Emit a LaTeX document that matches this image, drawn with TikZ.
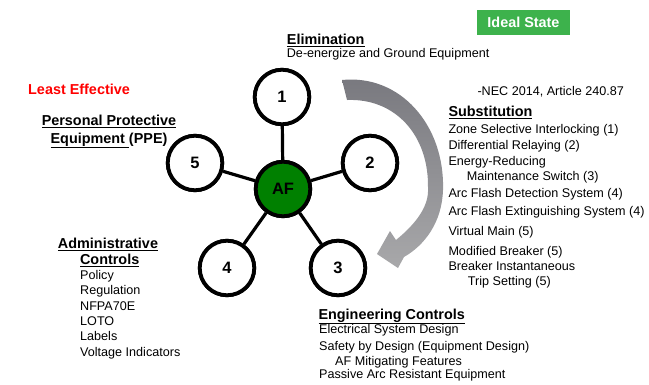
\documentclass[tikz,border=0pt]{standalone}
\usepackage{fontspec}
\setmainfont{Liberation Sans}
\definecolor{afgreen}{RGB}{0,128,0}
\definecolor{idealgreen}{RGB}{61,178,76}
\definecolor{arrowtop}{RGB}{120,120,126}
\definecolor{arrowbot}{RGB}{168,168,170}
\begin{document}
\begin{tikzpicture}[x=1pt,y=-1pt,
  txt/.style={anchor=base west,inner sep=0pt,font=\fontsize{12.6}{15}\selectfont},
  hd/.style={anchor=base west,inner sep=0pt,font=\fontsize{14.4}{17}\selectfont\bfseries},
  hdc/.style={anchor=base,inner sep=0pt,font=\fontsize{14.4}{17}\selectfont\bfseries},
  num/.style={circle,draw=black,line width=3.8pt,fill=white,minimum size=54.5pt,inner sep=0pt,font=\fontsize{16.5}{18}\selectfont\bfseries},
  spoke/.style={line width=3.2pt,draw=black}]
\useasboundingbox (0,0) rectangle (649,384);

% curved arrow
\shade[top color=arrowtop,bottom color=arrowbot]
  (342,80) .. controls (400,74) and (445,125) .. (443,190)
  .. controls (442,222) and (425,245) .. (404,257)
  -- (398,268) -- (377,254) -- (390,231) -- (396,240)
  .. controls (418,222) and (429,205) .. (428,188)
  .. controls (429,135) and (395,98) .. (347,100) -- cycle;

% hub and spokes
\node[num,fill=afgreen] (af) at (283,189) {AF};
\node[num] (n1) at (282,97) {1};
\node[num] (n2) at (370,163) {2};
\node[num] (n3) at (338,268) {3};
\node[num] (n4) at (227,268) {4};
\node[num] (n5) at (195,163) {5};
\foreach \n in {n1,n2,n3,n4,n5} \draw[spoke] (af) -- (\n);
\node[num,fill=afgreen] at (af.center) {AF};
\foreach \n/\t in {n1/1,n2/2,n3/3,n4/4,n5/5} \node[num] at (\n.center) {\t};

% Ideal state
\node[fill=idealgreen,text=white,minimum width=93pt,minimum height=25pt,inner sep=0pt,
  font=\fontsize{14.4}{17}\selectfont\bfseries] (ideal) at (523.5,22.5) {Ideal State};

% Least effective
\node[hd,text=red] (least) at (28,94) {Least Effective};

% Elimination
\node[hd] (elim) at (286.7,44.3) {\underline{Elimination}};
\node[txt] (elim1) at (286.7,57.7) {De-energize and Ground Equipment};

% PPE
\node[hdc] (ppe1) at (109,125.7) {\underline{Personal Protective}};
\node[hdc] (ppe2) at (109,143) {\underline{Equipment\ }(PPE)};

% Administrative
\node[hdc] (adm1) at (108,248.7) {\underline{Administrative}};
\node[hdc] (adm2) at (109.7,264.7) {\underline{Controls}};
\node[txt] (a1) at (80,279.3) {Policy};
\node[txt] (a2) at (80,294.7) {Regulation};
\node[txt] (a3) at (80,310.3) {NFPA70E};
\node[txt] (a4) at (80,325.3) {LOTO};
\node[txt] (a5) at (80,340.7) {Labels};
\node[txt] (a6) at (80,356.3) {Voltage Indicators};

% NEC
\node[txt] (nec) at (477.3,95) {-NEC 2014, Article 240.87};

% Substitution
\node[hd] (sub) at (448.3,116.7) {\underline{Substitution}};
\node[txt] (s1) at (448.3,133.3) {Zone Selective Interlocking (1)};
\node[txt] (s2) at (448.3,149.3) {Differential Relaying (2)};
\node[txt] (s3) at (448.3,165.7) {Energy-Reducing};
\node[txt] (s4) at (466.7,180) {Maintenance Switch (3)};
\node[txt] (s5) at (448.3,197) {Arc Flash Detection System (4)};
\node[txt] (s6) at (448.3,215.3) {Arc Flash Extinguishing System (4)};
\node[txt] (s7) at (448.3,235.3) {Virtual Main (5)};
\node[txt] (s8) at (448.3,255.3) {Modified Breaker (5)};
\node[txt] (s9) at (448.3,270.3) {Breaker Instantaneous};
\node[txt] (s10) at (467.7,285.3) {Trip Setting (5)};

% Engineering
\node[hd] (eng) at (318.3,319) {\underline{Engineering Controls}};
\node[txt] (e1) at (319,333.3) {Electrical System Design};
\node[txt] (e2) at (319,350) {Safety by Design (Equipment Design)};
\node[txt] (e3) at (335,365.7) {AF Mitigating Features};
\node[txt] (e4) at (319,378.3) {Passive Arc Resistant Equipment};
\end{tikzpicture}
\end{document}
